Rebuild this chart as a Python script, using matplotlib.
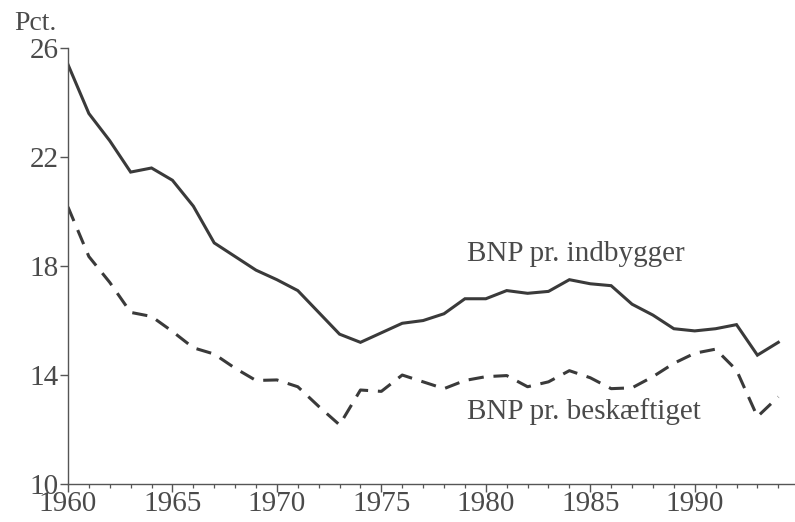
import matplotlib
matplotlib.use("Agg")
import matplotlib.pyplot as plt
from matplotlib.ticker import MultipleLocator

years = list(range(1960, 1995))
indbygger = [25.4, 23.6, 22.6, 21.45, 21.6, 21.15, 20.2, 18.85, 18.35, 17.85,
             17.5, 17.1, 16.3, 15.5, 15.2, 15.55, 15.9, 16.0, 16.25, 16.8,
             16.8, 17.1, 17.0, 17.07, 17.5, 17.35, 17.28, 16.6, 16.2, 15.7,
             15.62, 15.7, 15.85, 14.73, 15.2]
beskaeftiget = [20.17, 18.35, 17.4, 16.3, 16.15, 15.6, 15.0, 14.77, 14.25, 13.8,
                13.82, 13.57, 12.85, 12.17, 13.45, 13.4, 14.0, 13.75, 13.5, 13.8,
                13.94, 13.98, 13.57, 13.75, 14.16, 13.9, 13.5, 13.53, 13.94, 14.43,
                14.8, 14.95, 14.18, 12.47, 13.2]

plt.rcParams['font.family'] = ['Liberation Serif', 'DejaVu Serif']
ink = '#3a3a3a'
txt = '#4a4a4a'

fig = plt.figure(figsize=(7.95, 5.22), dpi=100)
ax = fig.add_axes([0.0855, 0.0728, 0.9145, 0.835])

ax.plot(years, indbygger, color=ink, lw=2.2, solid_joinstyle='miter')
ax.plot(years, beskaeftiget, color=ink, lw=2.2, dashes=(5.0, 3.2))

ax.set_xlim(1960, 1994.8)
ax.set_ylim(10, 26)
ax.set_yticks([10, 14, 18, 22, 26])
ax.xaxis.set_major_locator(MultipleLocator(5))
ax.xaxis.set_minor_locator(MultipleLocator(1))

for s in ['top', 'right']:
    ax.spines[s].set_visible(False)
for s in ['left', 'bottom']:
    ax.spines[s].set_color('#555555')
    ax.spines[s].set_linewidth(1.0)

ax.tick_params(axis='both', which='major', direction='out', length=6,
               width=1.0, color='#555555', labelsize=21, labelcolor=txt, pad=1)
ax.tick_params(axis='x', which='minor', direction='out', length=3,
               width=0.9, color='#555555')
ax.tick_params(axis='x', which='major', pad=-1)

ax.text(1979.1, 18.45, 'BNP pr. indbygger', fontsize=21, color=txt, va='center')
ax.text(1979.1, 12.65, 'BNP pr. beskæftiget', fontsize=21, color=txt, va='center')
fig.text(0.018, 0.955, 'Pct.', fontsize=20, color=txt, va='center')

fig.savefig('out.png', dpi=100)
